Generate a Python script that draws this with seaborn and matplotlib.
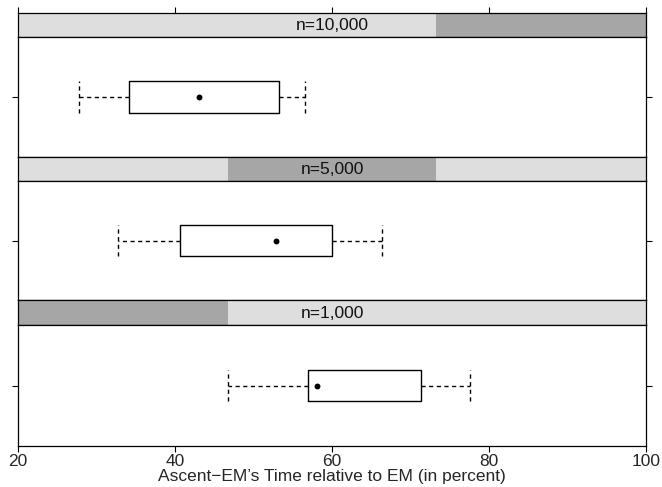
import matplotlib
matplotlib.use("Agg")
import matplotlib.pyplot as plt
import seaborn as sns
import pandas as pd

# ---- data ----
panels = ["n=10,000", "n=5,000", "n=1,000"]
whislo = [27.8, 32.8, 46.7]
q1 = [34.2, 40.7, 56.9]
med = [43.0, 52.9, 58.1]
q3 = [53.3, 60.0, 71.3]
whishi = [56.6, 66.4, 77.6]
level_lo = [73.3, 46.7, 20.0]
level_hi = [100.0, 73.3, 46.7]
xticks = [20, 40, 60, 80, 100]
xlabel = "Ascent\u2212EM\u2019s Time relative to EM (in percent)"

sns.set_style("white")
plt.rcParams['font.family'] = ['Liberation Sans', 'DejaVu Sans']

W, H = 662, 487
fig = plt.figure(figsize=(W / 100, H / 100), dpi=100)

X0, X1 = 18, 646


def rect(top, bottom):
    return [X0 / W, 1 - bottom / H, (X1 - X0) / W, (bottom - top) / H]


strips = [(13, 37), (157, 181), (300, 325)]
bodies = [(37, 157), (181, 300), (325, 446)]

for i, name in enumerate(panels):
    # strip
    sa = fig.add_axes(rect(*strips[i]))
    sa.set_xlim(20, 100)
    sa.set_ylim(0, 1)
    sa.axvspan(20, 100, color="#dedede", lw=0)
    sa.axvspan(level_lo[i], level_hi[i], color="#a6a6a6", lw=0)
    sa.text(60, 0.47, name, ha="center", va="center", fontsize=12.5, color="#111111")
    sa.set_yticks([])
    for s in sa.spines.values():
        s.set_color("black")
        s.set_linewidth(0.9)
    if i == 0:
        sa.xaxis.tick_top()
        sa.set_xticks(xticks)
        sa.set_xticklabels([])
        sa.tick_params(axis="x", direction="out", length=4, width=0.8, color="black")
    else:
        sa.set_xticks([])

    # panel
    ax = fig.add_axes(rect(*bodies[i]))
    stats = [dict(whislo=whislo[i], q1=q1[i], med=med[i], q3=q3[i],
                  whishi=whishi[i], fliers=[])]
    ax.bxp(stats, positions=[0.5], widths=0.26, capwidths=0.26,
           orientation="horizontal", showfliers=False,
           boxprops=dict(color="black", linewidth=1.0),
           whiskerprops=dict(color="black", linewidth=1.0, linestyle=(0, (3, 2.5))),
           capprops=dict(color="black", linewidth=1.0, linestyle=(0, (3, 2.5))),
           medianprops=dict(linewidth=0))
    df = pd.DataFrame({"x": [med[i]], "y": [0.5]})
    sns.scatterplot(data=df, x="x", y="y", ax=ax, color="black", s=18,
                    edgecolor="black", linewidth=0, zorder=5)
    ax.set_xlim(20, 100)
    ax.set_ylim(0, 1)
    ax.set_yticks([0.5])
    ax.set_yticklabels([])
    ax.tick_params(axis="y", left=True, right=True, direction="out",
                   length=4, width=0.8, color="black")
    ax.set_ylabel("")
    for s in ax.spines.values():
        s.set_color("black")
        s.set_linewidth(0.9)
    if i == len(panels) - 1:
        ax.set_xticks(xticks)
        ax.set_xticklabels([str(t) for t in xticks], fontsize=12.5)
        ax.tick_params(axis="x", bottom=True, direction="out", length=4,
                       width=0.8, color="black", pad=2)
        ax.set_xlabel(xlabel, fontsize=12.5, labelpad=0)
    else:
        ax.set_xticks([])
        ax.set_xlabel("")

fig.savefig("out.png", dpi=100)
